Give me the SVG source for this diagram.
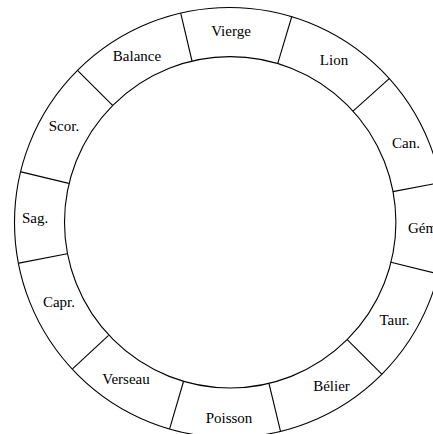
<svg xmlns="http://www.w3.org/2000/svg" width="433" height="434" viewBox="0 0 433 434">
<style>
.ring{fill:none;stroke:#000;stroke-width:1.1}
.div{stroke:#000;stroke-width:1.1}
text{font-family:"Liberation Serif","Times New Roman",serif;font-size:15px;fill:#000;text-anchor:middle}
</style>
<rect width="433" height="434" fill="#fff"/>
<g id="ring">
<circle class="ring" cx="229.5" cy="222.5" r="215"/>
<circle class="ring" cx="230.2" cy="222.3" r="165.7"/>
</g>
<g id="dividers">
<line class="div" x1="192.0" y1="61.0" x2="180.7" y2="13.1"/>
<line class="div" x1="277.7" y1="63.6" x2="291.8" y2="16.5"/>
<line class="div" x1="353.0" y1="111.2" x2="389.5" y2="78.3"/>
<line class="div" x1="392.9" y1="191.6" x2="441.3" y2="182.5"/>
<line class="div" x1="390.9" y1="262.2" x2="438.7" y2="274.0"/>
<line class="div" x1="347.2" y1="339.6" x2="382.0" y2="374.4"/>
<line class="div" x1="269.0" y1="383.5" x2="280.5" y2="431.4"/>
<line class="div" x1="183.5" y1="381.5" x2="169.6" y2="428.8"/>
<line class="div" x1="108.6" y1="335.3" x2="72.5" y2="368.8"/>
<line class="div" x1="67.2" y1="253.8" x2="18.9" y2="263.1"/>
<line class="div" x1="68.8" y1="183.4" x2="21.0" y2="171.9"/>
<line class="div" x1="112.6" y1="105.4" x2="77.7" y2="70.6"/>
</g>
<g id="vierge"><text x="231" y="36">Vierge</text></g>
<g id="lion"><text x="334" y="65">Lion</text></g>
<g id="cancer"><text x="406" y="148">Can.</text></g>
<g id="gemeaux"><text x="408" y="233" style="text-anchor:start">Gém</text></g>
<g id="taureau"><text x="394.5" y="325">Taur.</text></g>
<g id="belier"><text x="331.5" y="391">Bélier</text></g>
<g id="poisson"><text x="229" y="423">Poisson</text></g>
<g id="verseau"><text x="126" y="384">Verseau</text></g>
<g id="capricorne"><text x="59" y="307">Capr.</text></g>
<g id="sagittaire"><text x="35" y="223">Sag.</text></g>
<g id="scorpion"><text x="64" y="131">Scor.</text></g>
<g id="balance"><text x="137" y="61">Balance</text></g>
</svg>
